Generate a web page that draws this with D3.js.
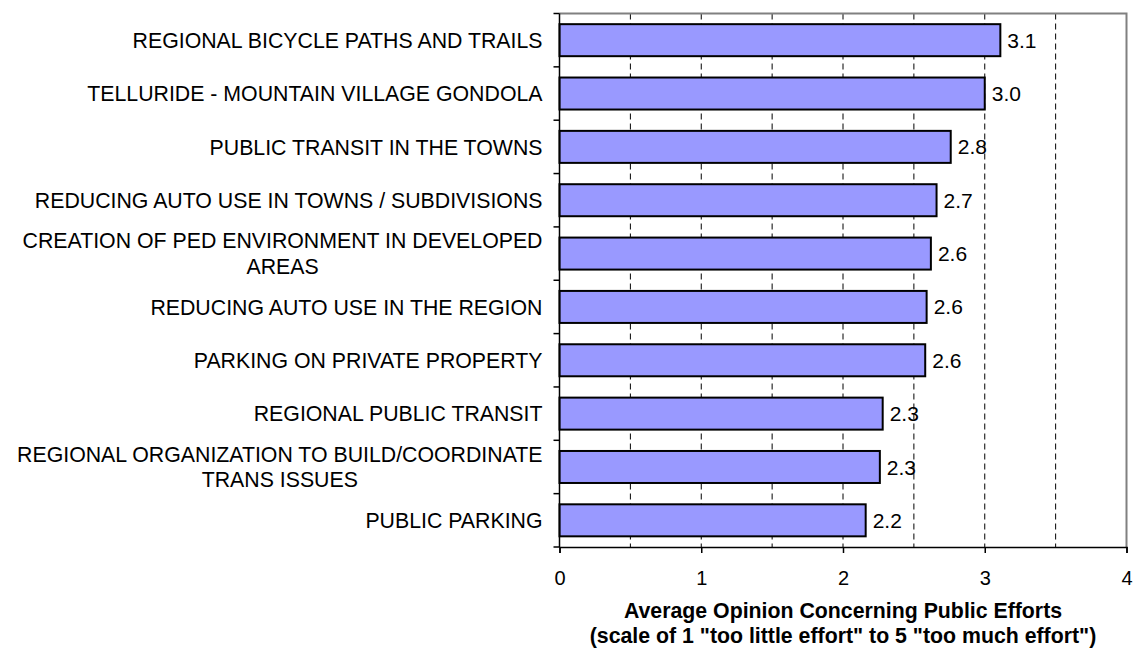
<!DOCTYPE html>
<html>
<head>
<meta charset="utf-8">
<script src="https://cdn.jsdelivr.net/npm/d3@7"></script>
<style>
  body { margin: 0; background: #fff; }
  svg { display: block; font-family: Arial, "Liberation Sans", sans-serif; }
</style>
</head>
<body>
<div id="chart"></div>
<script>
// chart data
var categories = [
  "REGIONAL BICYCLE PATHS AND TRAILS",
  "TELLURIDE - MOUNTAIN VILLAGE GONDOLA",
  "PUBLIC TRANSIT IN THE TOWNS",
  "REDUCING AUTO USE IN TOWNS / SUBDIVISIONS",
  "CREATION OF PED ENVIRONMENT IN DEVELOPED\nAREAS",
  "REDUCING AUTO USE IN THE REGION",
  "PARKING ON PRIVATE PROPERTY",
  "REGIONAL PUBLIC TRANSIT",
  "REGIONAL ORGANIZATION TO BUILD/COORDINATE\nTRANS ISSUES",
  "PUBLIC PARKING"
];
var values = [3.11, 3.0, 2.76, 2.66, 2.62, 2.59, 2.58, 2.28, 2.26, 2.16];
var xTicks = [0, 1, 2, 3, 4];
var gridTicks = [0.5, 1, 1.5, 2, 2.5, 3, 3.5];
var titleLines = [
  "Average Opinion Concerning Public Efforts",
  "(scale of 1 \"too little effort\" to 5 \"too much effort\")"
];

var W = 1134, H = 654;
var margin = { top: 13.5, right: 7.5, bottom: 107, left: 559.5 };
var width = W - margin.left - margin.right,
  height = H - margin.top - margin.bottom;

var svg = d3.select("#chart").append("svg")
  .attr("width", W)
  .attr("height", H);

var g = svg.append("g")
  .attr("transform", "translate(" + margin.left + "," + margin.top + ")");

var xScale = d3.scaleLinear().domain([0, 4]).range([0, width]);
var yScale = d3.scaleBand()
  .domain(categories)
  .range([0, height])
  .paddingInner(0.4)
  .paddingOuter(0.2);

// dashed gridlines
g.append("g")
  .selectAll("line")
  .data(gridTicks)
  .enter()
  .append("line")
  .attr("x1", function(d) { return xScale(d); })
  .attr("x2", function(d) { return xScale(d); })
  .attr("y1", 0)
  .attr("y2", height)
  .attr("stroke", "#000")
  .attr("stroke-width", 1)
  .attr("stroke-dasharray", "6,4");

// top and right border of plot area
g.append("path")
  .attr("d", "M0,0H" + width + "V" + height)
  .attr("fill", "none")
  .attr("stroke", "#808080")
  .attr("stroke-width", 2);

// bars
g.append("g")
  .selectAll("rect")
  .data(values)
  .enter()
  .append("rect")
  .attr("x", xScale(0))
  .attr("y", function(d, i) { return yScale(categories[i]); })
  .attr("width", function(d) { return xScale(d) - xScale(0); })
  .attr("height", yScale.bandwidth())
  .attr("fill", "#9999ff")
  .attr("stroke", "#000")
  .attr("stroke-width", 2);

// value labels
var fmt = d3.format(".1f");
g.append("g")
  .selectAll("text")
  .data(values)
  .enter()
  .append("text")
  .attr("x", function(d) { return xScale(d) + 7; })
  .attr("y", function(d, i) { return yScale(categories[i]) + yScale.bandwidth() / 2; })
  .attr("dy", "0.36em")
  .attr("font-size", 21)
  .attr("fill", "#000")
  .text(function(d) { return fmt(d); });

// left axis: line plus ticks on the category boundaries
var step = yScale.step();
var yAxis = g.append("g");
yAxis.append("line")
  .attr("x1", 0).attr("x2", 0)
  .attr("y1", 0).attr("y2", height)
  .attr("stroke", "#000").attr("stroke-width", 1.5);
yAxis.selectAll("line.tick")
  .data(d3.range(categories.length + 1))
  .enter()
  .append("line")
  .attr("class", "tick")
  .attr("x1", -6).attr("x2", 0)
  .attr("y1", function(i) { return i * step; })
  .attr("y2", function(i) { return i * step; })
  .attr("stroke", "#000").attr("stroke-width", 1.5);

// bottom axis
var xAxis = g.append("g")
  .attr("transform", "translate(0," + height + ")")
  .call(d3.axisBottom(xScale).tickValues(xTicks).tickSize(6).tickPadding(18).tickFormat(d3.format("d")));
xAxis.select(".domain").attr("stroke", "#000").attr("stroke-width", 1.5);
xAxis.selectAll(".tick line").attr("stroke", "#000").attr("stroke-width", 1.5);
xAxis.selectAll(".tick text")
  .attr("font-size", 20)
  .attr("font-family", "Arial, 'Liberation Sans', sans-serif")
  .attr("fill", "#000");

// category labels, multi-line ones centred on each other, block right aligned
var labelRight = -17;
var labels = g.append("g").selectAll("text")
  .data(categories)
  .enter()
  .append("text")
  .attr("font-size", 21.3)
  .attr("fill", "#000")
  .attr("text-anchor", "middle");

labels.each(function(d) {
  var t = d3.select(this);
  var lines = d.split("\n");
  var cy = yScale(d) + yScale.bandwidth() / 2;
  var lh = 25.5;
  lines.forEach(function(line, k) {
    t.append("tspan")
      .attr("x", 0)
      .attr("y", cy + (k - (lines.length - 1) / 2) * lh)
      .attr("dy", "0.36em")
      .text(line);
  });
  var maxW = 0;
  t.selectAll("tspan").each(function() {
    maxW = Math.max(maxW, this.getComputedTextLength());
  });
  t.selectAll("tspan").attr("x", labelRight - maxW / 2);
});

// axis title
svg.append("text")
  .attr("text-anchor", "middle")
  .attr("font-size", 21.3)
  .attr("font-weight", "bold")
  .attr("fill", "#000")
  .selectAll("tspan")
  .data(titleLines)
  .enter()
  .append("tspan")
  .attr("x", 843)
  .attr("y", function(d, i) { return 618 + i * 25; })
  .text(function(d) { return d; });
</script>
</body>
</html>
